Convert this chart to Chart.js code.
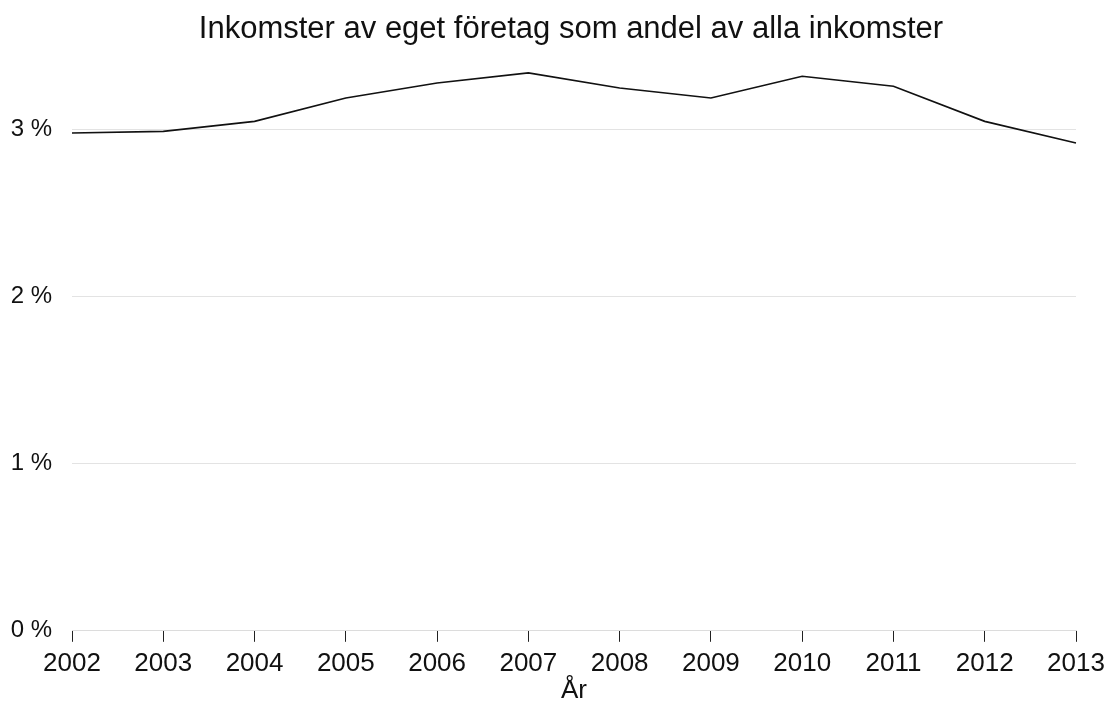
<!DOCTYPE html>
<html>
<head>
<meta charset="utf-8">
<script src="https://cdn.jsdelivr.net/npm/chart.js@4"></script>
<style>
html,body{margin:0;padding:0;background:#fff;}
#wrap{width:1112px;height:704px;position:relative;}
</style>
</head>
<body>
<div id="wrap"><canvas id="c"></canvas></div>
<script>
const titleText = 'Inkomster av eget företag som andel av alla inkomster';
const xAxisTitle = 'År';
const years = ['2002','2003','2004','2005','2006','2007','2008','2009','2010','2011','2012','2013'];
const sharePercent = [2.98, 2.99, 3.05, 3.19, 3.28, 3.34, 3.25, 3.19, 3.32, 3.26, 3.05, 2.92];
const yTickValues = [0, 1, 2, 3];

const FONT = "'Liberation Sans', Arial, sans-serif";

const titleShift = {
  id: 'titleShift',
  afterLayout(chart) {
    if (chart.titleBlock) { chart.titleBlock.left = 30; chart.titleBlock.right = 1112; }
  }
};

new Chart(document.getElementById('c'), {
  type: 'line',
  plugins: [titleShift],
  data: {
    labels: years,
    datasets: [{
      data: sharePercent,
      borderColor: '#111',
      borderWidth: 1.6,
      pointRadius: 0,
      tension: 0,
      fill: false
    }]
  },
  options: {
    responsive: true,
    maintainAspectRatio: false,
    animation: false,
    layout: { padding: { left: 0, right: 0, top: 0, bottom: 0 } },
    plugins: {
      legend: { display: false },
      tooltip: { enabled: false },
      title: {
        display: true,
        text: titleText,
        color: '#111',
        font: { family: FONT, size: 31, weight: 'normal', lineHeight: 1.2 },
        padding: { top: 11, bottom: -2 }
      }
    },
    scales: {
      x: {
        afterFit: (s) => { s.paddingRight = 36; },
        grid: { drawOnChartArea: false, drawTicks: true, tickLength: 11, tickColor: '#222', tickWidth: 1 },
        border: { display: true, color: '#dcdcdc', width: 1 },
        ticks: { color: '#111', font: { family: FONT, size: 26, lineHeight: 1.2 }, padding: 6, maxRotation: 0, autoSkip: false },
        title: { display: true, text: xAxisTitle, color: '#111', font: { family: FONT, size: 26, lineHeight: 1.0 }, padding: { top: -7, bottom: 0 } }
      },
      y: {
        min: 0,
        max: 3.5,
        afterBuildTicks: (scale) => { scale.ticks = yTickValues.map(v => ({ value: v })); },
        afterFit: (s) => { s.width = 72; },
        grid: { color: '#e3e3e3', lineWidth: 1, drawTicks: false },
        border: { display: false },
        ticks: { color: '#111', font: { family: FONT, size: 24 }, padding: 20, callback: (v) => v + ' %' }
      }
    }
  }
});
</script>
</body>
</html>
